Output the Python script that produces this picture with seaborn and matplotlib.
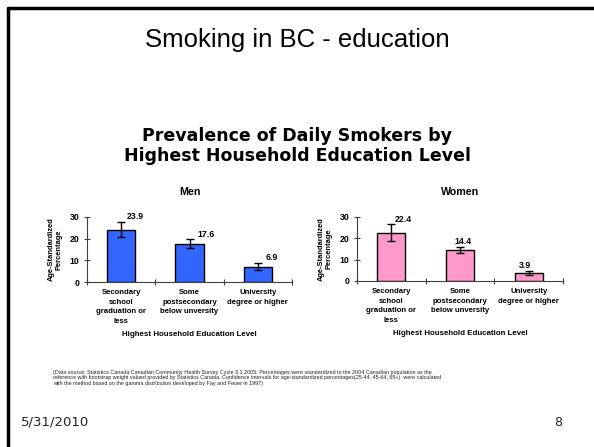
import numpy as np
import pandas as pd
import matplotlib
matplotlib.use('Agg')
import matplotlib.pyplot as plt
import seaborn as sns
from matplotlib.lines import Line2D

# data
categories = ['Secondary\nschool\ngraduation or\nless',
              'Some\npostsecondary\nbelow unversity',
              'University\ndegree or higher']
men_pct = [23.9, 17.6, 6.9]
men_low = [20.6, 15.8, 5.5]
men_high = [27.8, 19.7, 8.9]
women_pct = [22.4, 14.4, 3.9]
women_low = [18.9, 13.3, 2.8]
women_high = [26.6, 16.1, 4.8]
y_ticks = [0, 10, 20, 30]

sns.set_style('white')
plt.rcParams['font.family'] = ['Liberation Sans', 'DejaVu Sans']
plt.rcParams['text.color'] = 'black'
plt.rcParams['axes.labelcolor'] = 'black'
plt.rcParams['xtick.color'] = 'black'
plt.rcParams['ytick.color'] = 'black'

fig = plt.figure(figsize=(5.94, 4.47), dpi=100)

# slide frame (top and left edges)
fig.add_artist(Line2D([8/594, 1.0], [1-8/447, 1-8/447], color='black', lw=2.5))
fig.add_artist(Line2D([8/594, 8/594], [0.0, 1-8/447], color='black', lw=2.5))

fig.text(0.5, 1-40/447, 'Smoking in BC - education', ha='center', va='center', fontsize=18.5)
fig.text(0.5, 1-146/447, 'Prevalence of Daily Smokers by\nHighest Household Education Level',
         ha='center', va='center', fontsize=12.5, fontweight='bold', linespacing=1.15,
         family='DejaVu Sans')


def panel(ax, vals, lo, hi, color, title, lab_dx):
    df = pd.DataFrame({'cat': categories, 'pct': vals})
    sns.barplot(data=df, x='cat', y='pct', color=color, width=0.41, saturation=1,
                edgecolor='black', linewidth=1, errorbar=None, ax=ax)
    x = np.arange(len(categories))
    ax.errorbar(x, vals, yerr=[np.subtract(vals, lo), np.subtract(hi, vals)], fmt='none',
                ecolor='black', elinewidth=1, capsize=3, capthick=1)
    for i, v in enumerate(vals):
        ax.annotate(f'{v}', (x[i] + lab_dx[i], hi[i]), xytext=(0, 3.5), textcoords='offset points',
                    ha='center', va='center', fontsize=6.3, fontweight='bold')
    ax.set_xlim(-0.5, 2.5)
    ax.set_ylim(0, 30)
    ax.set_yticks(y_ticks)
    ax.set_xticks(x)
    ax.set_xticks([-0.5, 0.5, 1.5, 2.5], minor=True)
    ax.tick_params(axis='x', which='major', length=0, pad=5, labelsize=5.6, bottom=True)
    ax.tick_params(axis='x', which='minor', length=5, direction='inout', width=0.8, bottom=True,
                   color='#404040')
    ax.tick_params(axis='y', length=5, direction='inout', width=0.8, labelsize=6.3, pad=3,
                   left=True, color='#404040')
    for t in ax.get_xticklabels():
        t.set_fontweight('bold')
        t.set_linespacing(1.55)
    for t in ax.get_yticklabels():
        t.set_fontweight('bold')
    for s in ['top', 'right']:
        ax.spines[s].set_visible(False)
    for s in ['left', 'bottom']:
        ax.spines[s].set_color('#404040')
        ax.spines[s].set_linewidth(0.8)
    ax.set_title(title, fontsize=7.7, fontweight='bold', pad=16)
    ax.set_xlabel('Highest Household Education Level', fontsize=5.7, fontweight='bold', labelpad=4)
    ax.set_ylabel('Age-Standardized\nPercentage', fontsize=5.4, fontweight='bold', labelpad=5)


ax1 = fig.add_axes([87/594, 1-282/447, 205/594, 65/447])
ax2 = fig.add_axes([357/594, 1-281/447, 206/594, 64/447])
panel(ax1, men_pct, men_low, men_high, '#3366FF', 'Men', [0.2, 0.25, 0.2])
panel(ax2, women_pct, women_low, women_high, '#FF99CC', 'Women', [0.18, 0.04, -0.06])

note = ('(Data source: Statistics Canada Canadian Community Health Survey Cycle 3.1 2005; Percentages were standardized to the 2004 Canadian population as the\n'
        'reference with bootstrap weight valued provided by Statistics Canada. Confidence intervals for age-standardized percentages(25-44, 45-64, 65+)  were calculated\n'
        'with the method based on the gamma distribution developed by Fay and Feuer in 1997)')
fig.text(53/594, 1-378/447, note, ha='left', va='center', fontsize=3.85, color='#222222', linespacing=1.2)

fig.text(21/594, 1-422/447, '5/31/2010', ha='left', va='center', fontsize=9.5, color='#222222',
         family='DejaVu Sans')
fig.text(558/594, 1-422/447, '8', ha='center', va='center', fontsize=9, color='#222222',
         family='DejaVu Sans')

fig.savefig('out.png', dpi=100)
